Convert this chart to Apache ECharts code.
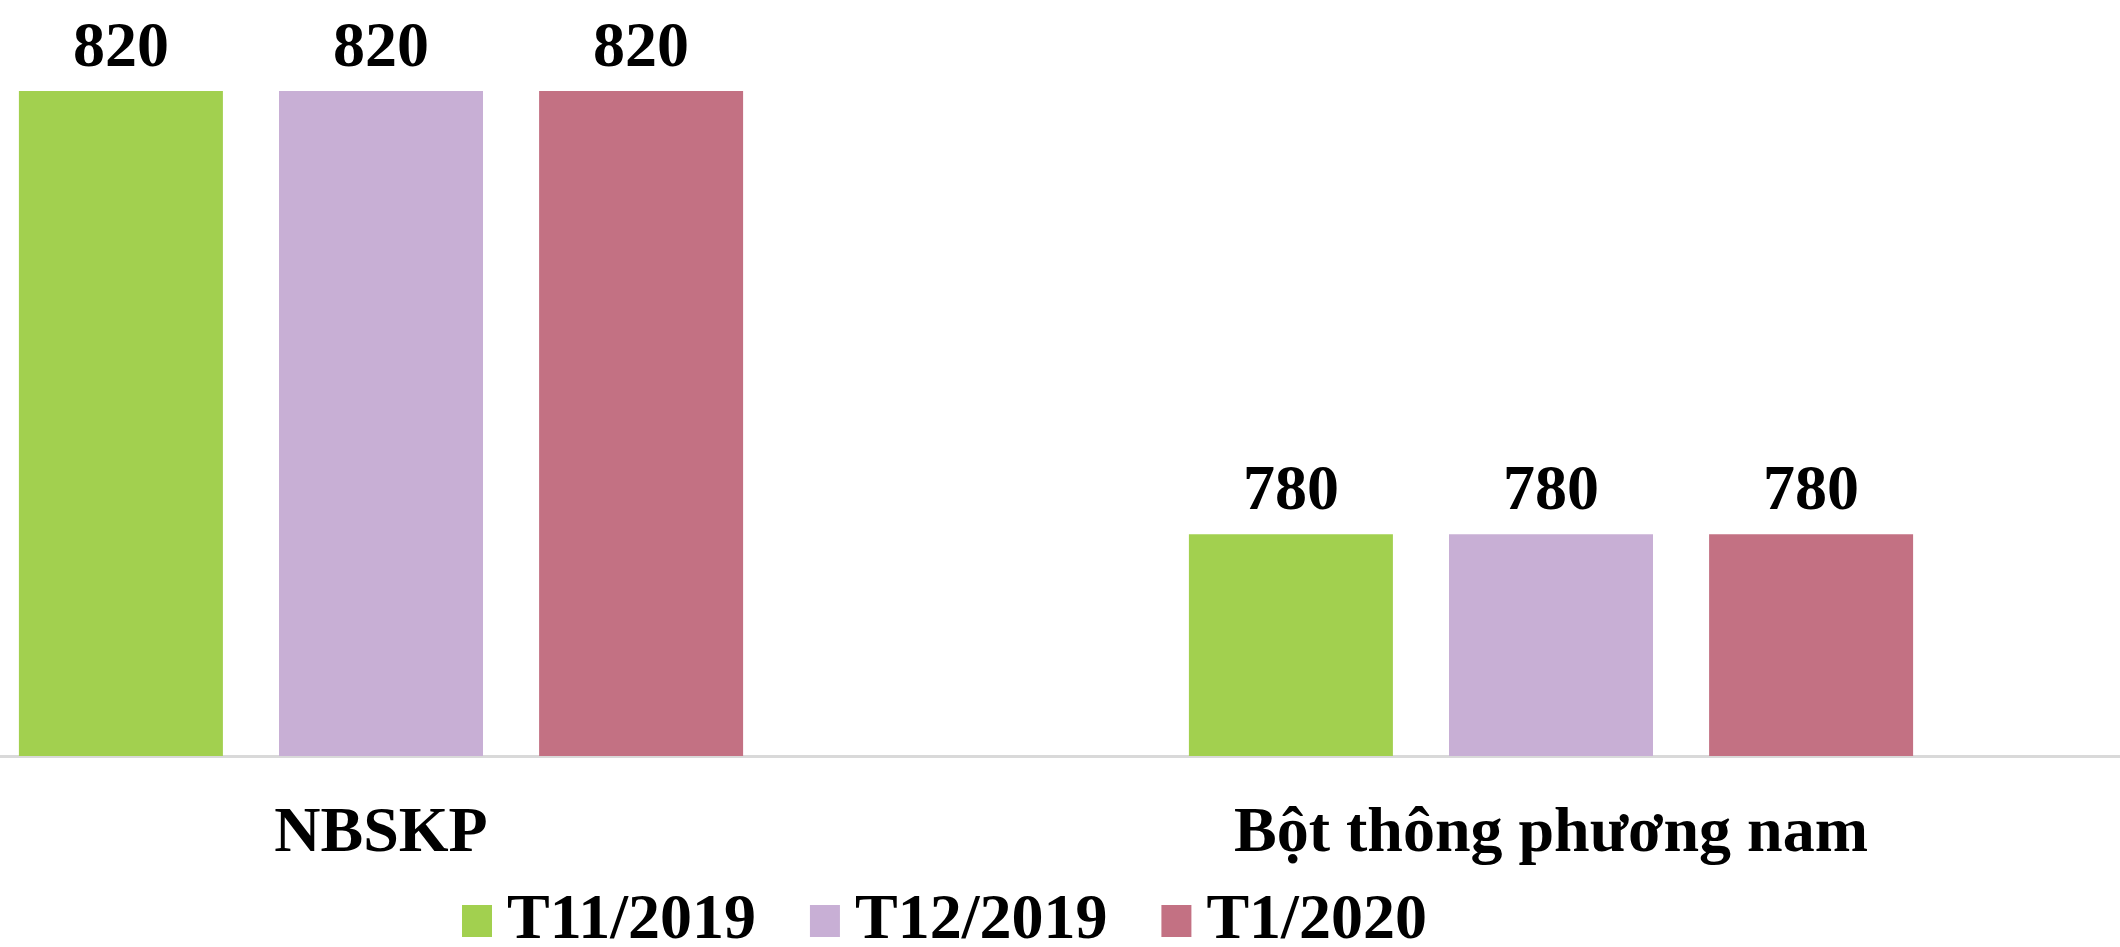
<!DOCTYPE html>
<html>
<head>
<meta charset="utf-8">
<script src="https://cdn.jsdelivr.net/npm/echarts@6/dist/echarts.min.js"></script>
<style>
  html, body { margin: 0; padding: 0; background: #fff; overflow: hidden; }
  /* the plot area runs past the left edge of the picture, so the chart box is wider and shifted */
  #chart { width: 2340px; height: 947px; margin-left: -204px; }
</style>
</head>
<body>
<div id="chart"></div>
<script>
// categories and values
const categories = ['NBSKP', 'Bột thông phương nam']
const seriesNames = ['T11/2019', 'T12/2019', 'T1/2020']
const t11_2019 = [820, 780]
const t12_2019 = [820, 780]
const t1_2020 = [820, 780]
const colors = ['#A2D04F', '#C8AFD5', '#C37183']

const font = 'Liberation Serif, Times New Roman, serif'

const makeSeries = (name, data, i) => ({
    name: name,
    type: 'bar',
    data: data,
    barWidth: 204,
    barGap: '27.5%',
    itemStyle: { color: colors[i] },
    label: {
        show: true,
        position: 'top',
        distance: 10,
        color: '#000',
        fontFamily: font,
        fontWeight: 'bold',
        fontSize: 64
    }
})

let option = {
    animation: false,
    grid: {
        left: 0,
        right: 0,
        top: 91,
        height: 665
    },
    legend: {
        left: 661,
        top: 884,
        itemWidth: 30,
        itemHeight: 32,
        itemGap: 54,
        icon: 'rect',
        textStyle: {
            color: '#000',
            fontFamily: font,
            fontWeight: 'bold',
            fontSize: 64,
            padding: [0, 0, 0, 10]
        },
        data: seriesNames
    },
    xAxis: {
        type: 'category',
        data: categories,
        axisTick: { show: false },
        axisLine: { lineStyle: { color: '#D9D9D9', width: 3 } },
        axisLabel: {
            margin: 46,
            color: '#000',
            fontFamily: font,
            fontWeight: 'bold',
            fontSize: 64
        }
    },
    yAxis: {
        type: 'value',
        min: 760,
        max: 820,
        show: false,
        splitLine: { show: false }
    },
    series: [
        makeSeries(seriesNames[0], t11_2019, 0),
        makeSeries(seriesNames[1], t12_2019, 1),
        makeSeries(seriesNames[2], t1_2020, 2)
    ]
}

let chart = echarts.init(document.getElementById('chart'))
chart.setOption(option)
</script>
</body>
</html>
